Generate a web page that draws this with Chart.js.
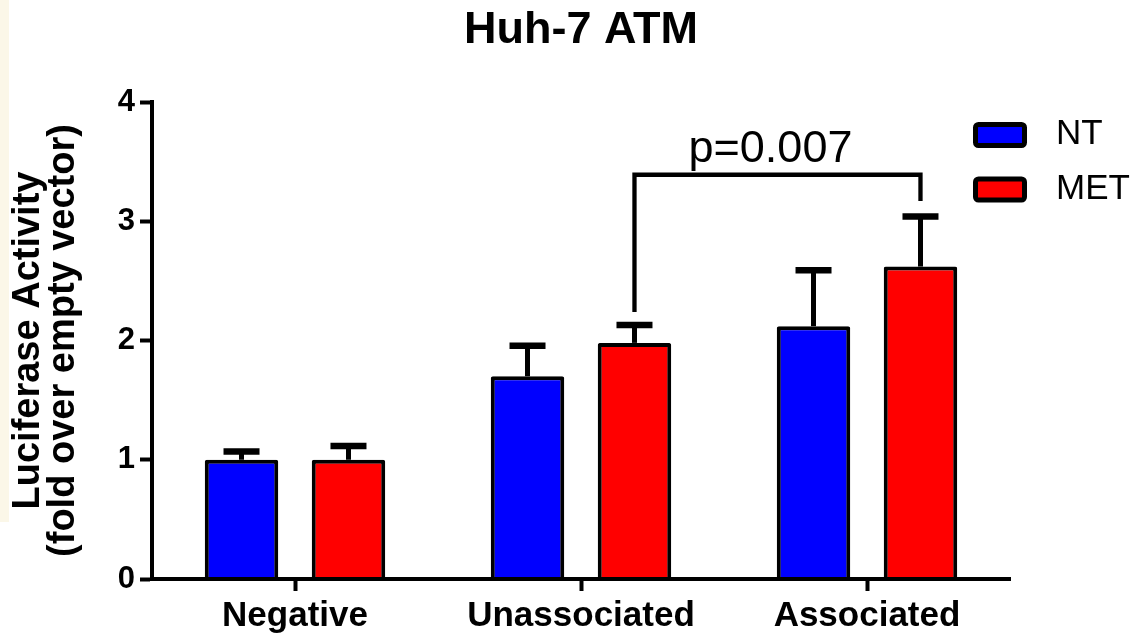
<!DOCTYPE html>
<html><head><meta charset="utf-8">
<script src="https://cdn.jsdelivr.net/npm/chart.js@4.4.1/dist/chart.umd.min.js"></script>
<style>
html,body{margin:0;padding:0;background:#fff;}
#wrap{position:relative;width:1143px;height:637px;overflow:hidden;}
#strip{position:absolute;left:0;top:0;width:9px;height:522px;background:#FBF7E8;}
canvas{position:absolute;left:0;top:0;}
</style></head><body>
<div id="wrap"><div id="strip"></div><canvas id="c" width="1143" height="637"></canvas></div>
<script>
// ---- data ----
const categories = ['Negative', 'Unassociated', 'Associated'];
const seriesNames = ['NT', 'MET'];
const ntValues = [1.00, 1.70, 2.12];
const metValues = [1.00, 1.98, 2.62];
const ntErrors = [0.07, 0.255, 0.47];
const metErrors = [0.115, 0.15, 0.42];
const yTicks = [0, 1, 2, 3, 4];
const chartTitle = 'Huh-7 ATM';
const yTitle = ['Luciferase Activity', '(fold over empty vector)'];
const sigLabel = 'p=0.007';
const sigFromCategory = 1;
const sigToCategory = 2;
const sigSeries = 1;
const sigLevel = 3.39;
const sigLeftEnd = 2.24;
const sigRightEnd = 3.17;

const FONT = '"Liberation Sans", Arial, Helvetica, sans-serif';

const errorBarPlugin = {
  id: 'errorBars',
  afterDatasetsDraw(chart) {
    const ctx = chart.ctx, y = chart.scales.y;
    chart.data.datasets.forEach((ds, di) => {
      const meta = chart.getDatasetMeta(di);
      meta.data.forEach((bar, i) => {
        const top = y.getPixelForValue(ds.data[i] + ds.errors[i]);
        const x = bar.x;
        ctx.save();
        ctx.strokeStyle = '#000';
        ctx.lineWidth = 5;
        ctx.beginPath(); ctx.moveTo(x, bar.y); ctx.lineTo(x, top); ctx.stroke();
        ctx.lineWidth = 6.5;
        ctx.beginPath(); ctx.moveTo(x - 18, top); ctx.lineTo(x + 18, top); ctx.stroke();
        ctx.restore();
      });
    });
  }
};

const bracketPlugin = {
  id: 'sigBracket',
  afterDatasetsDraw(chart) {
    const ctx = chart.ctx, y = chart.scales.y;
    const meta = chart.getDatasetMeta(sigSeries);
    const xl = meta.data[sigFromCategory].x, xr = meta.data[sigToCategory].x;
    const yl = y.getPixelForValue(sigLevel);
    ctx.save();
    ctx.strokeStyle = '#000';
    ctx.lineWidth = 4.3;
    ctx.lineJoin = 'miter';
    ctx.beginPath();
    ctx.moveTo(xl, y.getPixelForValue(sigLeftEnd));
    ctx.lineTo(xl, yl);
    ctx.lineTo(xr, yl);
    ctx.lineTo(xr, y.getPixelForValue(sigRightEnd));
    ctx.stroke();
    ctx.fillStyle = '#000';
    ctx.font = '45px ' + FONT;
    ctx.textAlign = 'center';
    ctx.textBaseline = 'alphabetic';
    ctx.fillText(sigLabel, (xl + xr) / 2 - 7, yl - 12.6);
    ctx.restore();
  }
};

const sideLegendPlugin = {
  id: 'sideLegend',
  afterDraw(chart) {
    const ctx = chart.ctx;
    ctx.save();
    chart.data.datasets.forEach((ds, i) => {
      const bx = 975.5, by = 124.5 + i * 54.5, bw = 49, bh = 21;
      ctx.beginPath();
      ctx.roundRect(bx, by, bw, bh, 3);
      ctx.fillStyle = ds.backgroundColor;
      ctx.fill();
      ctx.lineWidth = 5;
      ctx.strokeStyle = '#000';
      ctx.stroke();
      ctx.fillStyle = '#000';
      ctx.font = '35px ' + FONT;
      ctx.textAlign = 'left';
      ctx.textBaseline = 'middle';
      ctx.fillText(ds.label, 1056, by + bh / 2 - 0.5);
    });
    ctx.restore();
  }
};

new Chart(document.getElementById('c'), {
  type: 'bar',
  data: {
    labels: categories,
    datasets: [
      { label: seriesNames[0], data: ntValues, errors: ntErrors, backgroundColor: '#0000FF', borderColor: '#000', borderWidth: 4 },
      { label: seriesNames[1], data: metValues, errors: metErrors, backgroundColor: '#FF0000', borderColor: '#000', borderWidth: 4 }
    ]
  },
  options: {
    responsive: false,
    animation: false,
    devicePixelRatio: 1,
    datasets: { bar: { categoryPercentage: 0.748, barPercentage: 0.687, borderRadius: 2 } },
    layout: { padding: { left: 0, right: 133, top: 0, bottom: 0 } },
    plugins: {
      legend: { display: false },
      tooltip: { enabled: false },
      title: {
        display: true, text: chartTitle, fullSize: false, color: '#000',
        font: { family: FONT, size: 45, weight: 'bold', lineHeight: 1.2 },
        padding: { top: 4, bottom: 44 }
      }
    },
    scales: {
      x: {
        type: 'category', offset: true,
        grid: { display: true, drawOnChartArea: false, drawTicks: true, tickLength: 12, tickWidth: 4, tickColor: '#000', offset: false },
        border: { display: true, color: '#000', width: 4, z: 1 },
        ticks: { color: '#000', font: { family: FONT, size: 35, weight: 'bold', lineHeight: 1.2 }, padding: 4, maxRotation: 0, autoSkip: false },
        afterFit(s) { s.height = 58; }
      },
      y: {
        min: 0, max: 4,
        afterBuildTicks(s) { s.ticks = yTicks.map(v => ({ value: v })); },
        grid: { display: true, drawOnChartArea: false, drawTicks: true, tickLength: 12, tickWidth: 4, tickColor: '#000' },
        border: { display: true, color: '#000', width: 4, z: 1 },
        ticks: { color: '#000', font: { family: FONT, size: 31, weight: 'bold' }, padding: 5 },
        title: {
          display: true, text: yTitle, color: '#000',
          font: { family: FONT, size: 38, weight: 'bold', lineHeight: 0.93 },
          padding: { top: 10.8, bottom: 0 }
        },
        afterFit(s) { s.width = 152; }
      }
    }
  },
  plugins: [errorBarPlugin, bracketPlugin, sideLegendPlugin]
});
</script>
</body></html>
